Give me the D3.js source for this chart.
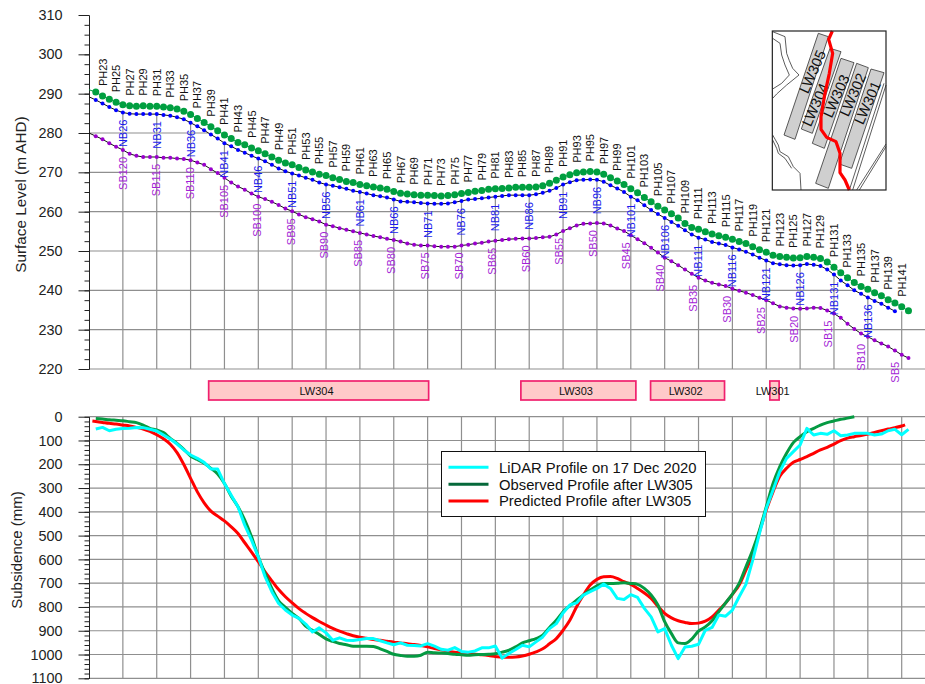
<!DOCTYPE html>
<html>
<head>
<meta charset="utf-8">
<script src="https://cdn.jsdelivr.net/npm/d3@7"></script>
<style>
    html, body { margin: 0; padding: 0; background: #fff; overflow: hidden; }
    svg { display: block; font-family: "Liberation Sans", Arial, sans-serif; }
    .grid line { stroke: #8f8f8f; stroke-width: 1.2; }
    .axis path, .axis line { stroke: #222; stroke-width: 1; }
    .axis text { font-size: 14.4px; fill: #222; font-family: "Liberation Sans", Arial, sans-serif; }
</style>
</head>
<body>
<svg id="chart" width="925" height="684"></svg>
<script>
// peg numbers, one value per peg from PH21 (at the axis) to PH142
var surfacePegs = d3.range(21, 143);
var bridgePegs = d3.range(21, 141);

var phLevel = [291.0, 290.4, 289.4, 288.6, 287.8, 287.2, 286.9, 286.8, 286.9, 286.8, 286.8,
    286.6, 286.4, 286.1, 285.5, 284.7, 283.7, 282.7, 281.6, 280.6, 279.5,
    278.6, 277.6, 277.0, 276.2, 275.5, 274.7, 273.9, 273.1, 272.4, 271.9,
    271.2, 270.6, 270.1, 269.5, 269.2, 268.6, 268.2, 267.7, 267.4, 266.9,
    266.6, 266.3, 266.0, 265.7, 265.1, 264.7, 264.5, 264.3, 264.2, 264.2,
    264.1, 264.0, 264.1, 264.3, 264.6, 264.9, 265.2, 265.4, 265.7, 265.8,
    265.9, 266.0, 266.2, 266.2, 266.2, 266.3, 266.6, 267.2, 268.0, 268.8,
    269.4, 269.9, 270.1, 270.2, 270.1, 269.5, 268.6, 267.8, 266.9, 265.8,
    264.8, 263.6, 262.5, 261.4, 260.4, 259.5, 258.4, 257.0, 256.0, 255.5,
    254.9, 254.3, 253.9, 253.5, 253.0, 252.4, 251.9, 251.1, 250.3, 249.7,
    248.9, 248.6, 248.4, 248.2, 248.3, 248.6, 248.4, 248.1, 247.2, 245.9,
    244.5, 243.2, 242.0, 241.0, 240.3, 239.4, 238.6, 237.6, 236.8, 235.8, 234.8];

var nbLevel = [289.2, 288.4, 287.5, 286.6, 285.8, 285.2, 284.9, 284.8, 284.8, 284.8, 284.8,
    284.6, 284.4, 284.0, 283.5, 282.6, 281.7, 280.7, 279.6, 278.6, 277.4,
    276.6, 275.7, 275.0, 274.2, 273.5, 272.8, 271.9, 271.0, 270.3, 269.7,
    269.2, 268.6, 268.1, 267.4, 266.9, 266.6, 266.2, 265.8, 265.3, 265.0,
    264.6, 264.2, 263.9, 263.6, 263.1, 262.6, 262.5, 262.4, 262.2, 262.1,
    262.0, 262.0, 262.1, 262.4, 262.7, 263.1, 263.2, 263.4, 263.6, 263.8,
    264.0, 264.2, 264.2, 264.2, 264.2, 264.4, 264.8, 265.3, 266.0, 266.9,
    267.5, 268.0, 268.1, 268.2, 268.1, 267.6, 266.7, 265.9, 265.0, 263.8,
    262.9, 261.6, 260.4, 259.4, 258.4, 257.4, 256.4, 255.3, 254.2, 253.4,
    252.9, 252.3, 251.9, 251.5, 250.9, 250.4, 249.8, 249.1, 248.3, 247.6,
    246.9, 246.6, 246.4, 246.3, 246.4, 246.7, 246.5, 246.2, 245.3, 244.0,
    242.5, 241.3, 240.0, 239.1, 238.2, 237.3, 236.6, 235.6, 234.7];

var sbLevel = [280.0, 279.2, 278.4, 277.4, 276.5, 275.7, 274.7, 274.2, 273.9, 273.9, 273.9,
    273.7, 273.7, 273.5, 273.4, 273.1, 272.5, 271.9, 270.8, 269.8, 268.6,
    267.4, 266.4, 265.6, 264.6, 263.8, 263.2, 262.5, 261.7, 260.8, 260.1,
    259.3, 258.6, 258.1, 257.5, 256.7, 256.3, 255.8, 255.4, 255.0, 254.6,
    254.2, 253.8, 253.5, 253.1, 252.8, 252.4, 251.9, 251.6, 251.4, 251.4,
    251.2, 251.1, 251.1, 251.1, 251.4, 251.6, 251.9, 252.1, 252.4, 252.6,
    252.8, 253.0, 253.1, 253.2, 253.2, 253.3, 253.5, 253.6, 254.2, 255.1,
    255.8, 256.5, 256.9, 257.0, 257.1, 257.0, 256.5, 255.7, 255.1, 254.0,
    253.0, 252.0, 250.8, 249.6, 248.3, 247.4, 246.4, 245.3, 244.2, 243.2,
    242.5, 241.9, 241.5, 241.1, 240.4, 239.9, 239.4, 238.8, 238.1, 237.5,
    236.7, 235.9, 235.6, 235.4, 235.3, 235.4, 235.6, 235.5, 234.9, 234.1,
    233.0, 231.5, 230.2, 229.0, 228.2, 227.3, 226.5, 225.7, 224.7, 223.6, 222.8];

// subsidence in mm, per peg
var lidarPegs = d3.range(22, 143);
var lidarProfile = [52, 45, 59, 53, 50, 49, 45, 46, 53, 60,
    77, 94, 115, 140, 161, 175, 192, 220, 220, 281,
    330, 379, 456, 519, 589, 673, 736, 785, 813, 834,
    848, 872, 905, 888, 909, 940, 930, 940, 941, 937,
    933, 933, 942, 951, 959, 951, 961, 962, 964, 954,
    965, 978, 982, 971, 987, 990, 985, 972, 972, 964,
    1015, 996, 979, 961, 968, 947, 926, 891, 870, 825,
    792, 783, 750, 736, 722, 704, 722, 764, 769, 748,
    760, 806, 842, 905, 891, 961, 1017, 968, 965, 957,
    898, 886, 834, 839, 813, 757, 705, 603, 491, 386,
    309, 231, 175, 147, 119, 49, 77, 70, 74, 59,
    80, 77, 70, 70, 70, 77, 73, 59, 53, 76, 53];

var observedPegs = d3.range(22, 135);
var observedProfile = [8, 10, 13, 15, 17, 21, 25, 35, 49, 56,
    67, 91, 112, 137, 165, 180, 196, 217, 241, 281,
    334, 379, 435, 505, 589, 659, 722, 774, 802, 827,
    848, 881, 898, 916, 934, 945, 954, 959, 965, 965,
    965, 966, 976, 987, 999, 1004, 1007, 1007, 1003, 990,
    993, 994, 996, 999, 1001, 1003, 1001, 1000, 999, 997,
    990, 982, 968, 951, 942, 933, 919, 886, 856, 820,
    795, 771, 750, 729, 711, 701, 701, 700, 698, 701,
    705, 722, 750, 792, 862, 912, 951, 954, 935, 902,
    884, 858, 820, 783, 746, 701, 631, 561, 477, 379,
    281, 210, 154, 109, 84, 63, 49, 35, 25, 18,
    11, 6, 0];

var predictedPegs = [21.5].concat(d3.range(22, 142), [141.5]);
var predictedProfile = [18, 20, 24, 28, 31, 35, 39, 45, 52, 62, 76,
    93, 116, 151, 201, 259, 316, 362, 397, 418, 438,
    463, 491, 530, 569, 610, 652, 690, 727, 757, 783,
    807, 827, 845, 861, 876, 890, 902, 912, 921, 927,
    932, 937, 940, 944, 948, 951, 955, 958, 962, 968,
    975, 980, 986, 990, 993, 996, 999, 1001, 1004, 1008,
    1011, 1011, 1010, 1006, 999, 989, 976, 955, 933, 898,
    856, 799, 750, 708, 684, 673, 672, 680, 694, 705,
    722, 741, 764, 797, 827, 846, 858, 865, 870, 868,
    860, 842, 813, 783, 747, 708, 645, 582, 484, 393,
    316, 250, 217, 192, 180, 168, 154, 140, 129, 115,
    101, 90, 84, 79, 73, 66, 59, 52, 46, 39, 34];

// labels along the line
var phLabels = d3.range(23, 142, 2);
var nbLabels = d3.range(26, 137, 5);
var sbLabels = d3.range(120, 0, -5);

// longwall panels along the section, in pegs
var panelNames = ["LW304", "LW303", "LW302", "LW301"];
var panelStart = [38.67, 84.77, 103.92, 121.53];
var panelEnd = [71.15, 101.75, 114.84, 122.9];
var panelLabelAt = [54.6, 92.9, 109.1, 121.95];

var levelTicks = d3.range(220, 311, 10);
var levelMinor = d3.range(220, 310.1, 2.5);
var subsidenceTicks = d3.range(0, 1101, 100);
var subsidenceMinor = d3.range(0, 1101, 20);
var gridPegs = d3.range(26, 142, 5);
var levelGrid = d3.range(220, 281, 10);

var legendNames = ["LiDAR Profile on 17 Dec 2020", "Observed Profile after LW305", "Predicted Profile after LW305"];
var legendColours = ["#00ffff", "#05683a", "#ff0000"];

// location plan, in its own plan units
var planPanels = [
    {name: "LW305", at: [157, 155], outline: [[175, 40], [205, 50], [105, 358], [72, 345]]},
    {name: "LW304", at: [165, 254], outline: [[210, 85], [243, 95], [157, 340], [124, 327]]},
    {name: "LW303", at: [228, 228], outline: [[243, 115], [282, 128], [193, 385], [157, 370]]},
    {name: "LW302", at: [278, 224], outline: [[290, 130], [325, 143], [205, 505], [167, 490]]},
    {name: "LW301", at: [322, 248], outline: [[333, 147], [372, 158], [275, 445], [238, 432]]}
];
var planSection = [[217, 33], [206, 58], [218, 100], [208, 160], [195, 220], [183, 290], [183, 328], [200, 352],
    [228, 365], [240, 400], [240, 458], [255, 480], [268, 510]];
var planLines = [
    [[38, 35], [75, 50], [80, 100], [88, 122], [98, 145], [117, 165], [80, 195], [50, 222], [38, 235]],
    [[38, 55], [60, 70], [65, 105], [75, 135], [88, 165], [65, 190], [38, 207]],
    [[38, 345], [55, 375], [60, 395], [85, 410], [100, 440], [120, 460], [123, 510]],
    [[38, 360], [50, 385], [55, 400], [75, 415], [95, 445]],
    [[378, 195], [278, 510]],
    [[372, 190], [268, 510]],
    [[378, 372], [290, 510]],
    [[378, 380], [298, 510]]
];

var svg = d3.select("svg#chart"),
    width = 925,
    axisX = 89;

var x = d3.scaleLinear().domain([21, 141]).range([axisX, 901.7]);
var yLevel = d3.scaleLinear().domain([220, 310]).range([369, 15]);
var ySub = d3.scaleLinear().domain([0, 1100]).range([416.7, 678.3]);
// SB labels sit at a slightly tighter spacing than the pegs
var sbLabelX = d3.scaleLinear().domain([120, 5]).range([x(26), x(140)]);

function zip(xs, ys) {
    return xs.map(function (d, i) {
        return {n: d, v: ys[i]};
    });
}

var phData = zip(surfacePegs, phLevel),
    nbData = zip(bridgePegs, nbLevel),
    sbData = zip(surfacePegs, sbLevel);

function levelAt(values, n) {
    return values[n - 21];
}

// gridlines only show below the bridge line
var belowBridge = nbData.concat([{n: 150, v: nbLevel[nbLevel.length - 1]}]);
svg.append("clipPath").attr("id", "under-bridge")
    .append("path")
    .attr("d", d3.area()
        .x(function (d) { return x(d.n); })
        .y0(yLevel(220) + 1)
        .y1(function (d) { return yLevel(d.v); })(belowBridge));

var topGrid = svg.append("g").attr("class", "grid").attr("clip-path", "url(#under-bridge)");
topGrid.selectAll("line.h").data(levelGrid).enter().append("line")
    .attr("class", "h")
    .attr("x1", axisX).attr("x2", width)
    .attr("y1", function (d) { return yLevel(d); })
    .attr("y2", function (d) { return yLevel(d); });
topGrid.selectAll("line.v").data(gridPegs).enter().append("line")
    .attr("class", "v")
    .attr("x1", function (d) { return x(d); })
    .attr("x2", function (d) { return x(d); })
    .attr("y1", yLevel(310)).attr("y2", yLevel(220));

var bottomGrid = svg.append("g").attr("class", "grid");
bottomGrid.selectAll("line.h").data(subsidenceTicks).enter().append("line")
    .attr("class", "h")
    .attr("x1", axisX).attr("x2", width)
    .attr("y1", function (d) { return ySub(d); })
    .attr("y2", function (d) { return ySub(d); });
bottomGrid.selectAll("line.v").data(gridPegs).enter().append("line")
    .attr("class", "v")
    .attr("x1", function (d) { return x(d); })
    .attr("x2", function (d) { return x(d); })
    .attr("y1", ySub(0)).attr("y2", ySub(1100));

// Axes
function drawAxis(scale, major, minor) {
    svg.append("g").attr("class", "axis")
        .attr("transform", "translate(" + axisX + ",0)")
        .call(d3.axisLeft(scale).tickValues(minor).tickSize(4.5).tickSizeOuter(0).tickFormat(""));
    svg.append("g").attr("class", "axis")
        .attr("transform", "translate(" + axisX + ",0)")
        .call(d3.axisLeft(scale).tickValues(major).tickSize(10.5).tickSizeOuter(0).tickPadding(16)
            .tickFormat(d3.format("d")));
}
drawAxis(yLevel, levelTicks, levelMinor);
drawAxis(ySub, subsidenceTicks, subsidenceMinor);

svg.append("text")
    .attr("transform", "translate(21,194.5) rotate(-90)")
    .attr("text-anchor", "middle").attr("dy", ".35em")
    .style("font-size", "15.3px").style("fill", "#222")
    .text("Surface Level (m AHD)");
svg.append("text")
    .attr("transform", "translate(17,550) rotate(-90)")
    .attr("text-anchor", "middle").attr("dy", ".35em")
    .style("font-size", "15px").style("fill", "#222")
    .text("Subsidence (mm)");

// Level profiles
var levelLine = d3.line()
    .x(function (d) { return x(d.n); })
    .y(function (d) { return yLevel(d.v); });

function drawLevels(data, lineColour, lineWidth, dotColour, radius) {
    svg.append("path")
        .attr("d", levelLine(data))
        .attr("fill", "none")
        .attr("stroke", lineColour)
        .attr("stroke-width", lineWidth);
    svg.append("g").selectAll("circle")
        .data(data.filter(function (d) { return d.n >= 22; }))
        .enter().append("circle")
        .attr("cx", function (d) { return x(d.n); })
        .attr("cy", function (d) { return yLevel(d.v); })
        .attr("r", radius)
        .attr("fill", dotColour);
}
drawLevels(phData, "#009f40", 1, "#009f40", 3.5);
drawLevels(nbData, "#111", 1, "#0000ff", 2);
drawLevels(sbData, "#111", 1, "#9900cc", 2);

function drawVerticalLabels(rows, colour, anchor) {
    svg.append("g").selectAll("text")
        .data(rows).enter().append("text")
        .attr("transform", function (d) {
            return "translate(" + d.x + "," + d.y + ") rotate(-90)";
        })
        .attr("text-anchor", anchor)
        .attr("dy", ".36em")
        .style("font-size", "11px")
        .style("fill", colour)
        .text(function (d) { return d.text; });
}

drawVerticalLabels(phLabels.map(function (n) {
    return {x: x(n), y: yLevel(levelAt(phLevel, n)) - 10, text: "PH" + n};
}), "#111", "start");
drawVerticalLabels(nbLabels.map(function (n) {
    return {x: x(n), y: yLevel(levelAt(nbLevel, n)) + 7, text: "NB" + n};
}), "#1a1aee", "end");
drawVerticalLabels(sbLabels.map(function (s) {
    return {x: sbLabelX(s), y: yLevel(levelAt(sbLevel, 146 - s)) + 7, text: "SB" + s};
}), "#a41fd6", "end");

// Panels strip
var panels = svg.append("g").selectAll("g")
    .data(panelNames).enter().append("g");
panels.append("rect")
    .attr("x", function (d, i) { return x(panelStart[i]); })
    .attr("width", function (d, i) { return x(panelEnd[i]) - x(panelStart[i]); })
    .attr("y", 381).attr("height", 19)
    .attr("fill", "#ffc9c9")
    .attr("stroke", "#f0206e")
    .attr("stroke-width", 1.7);
panels.append("text")
    .attr("x", function (d, i) { return x(panelLabelAt[i]); })
    .attr("y", 394.5)
    .attr("text-anchor", "middle")
    .style("font-size", "11px")
    .style("fill", "#111")
    .text(function (d) { return d; });

// Subsidence profiles, measured ones keep their kinks
function drawProfile(pegs, values, colour, curve) {
    svg.append("path")
        .attr("d", d3.line()
            .x(function (d) { return x(d.n); })
            .y(function (d) { return ySub(d.v); })
            .curve(curve)(zip(pegs, values)))
        .attr("fill", "none")
        .attr("stroke", colour)
        .attr("stroke-width", 3)
        .attr("stroke-linejoin", "round");
}
drawProfile(predictedPegs, predictedProfile, "#ff0000", d3.curveMonotoneX);
drawProfile(observedPegs, observedProfile, "#059a42", d3.curveMonotoneX);
drawProfile(lidarPegs, lidarProfile, "#00ffff", d3.curveLinear);

// Legend
var legend = svg.append("g");
legend.append("rect")
    .attr("x", 441.5).attr("y", 451.5).attr("width", 264).attr("height", 65)
    .attr("fill", "#fff").attr("stroke", "#111").attr("stroke-width", 1);
legendNames.forEach(function (name, i) {
    var rowY = 467.3 + i * 16.9;
    legend.append("line")
        .attr("x1", 448.5).attr("x2", 488.5)
        .attr("y1", rowY).attr("y2", rowY)
        .attr("stroke", legendColours[i]).attr("stroke-width", 3);
    legend.append("text")
        .attr("x", 499).attr("y", rowY).attr("dy", ".36em")
        .style("font-size", "14.8px").style("fill", "#111")
        .text(name);
});

// Location plan
var mapX = d3.scaleLinear().domain([0, 420]).range([760, 900]);
var mapY = d3.scaleLinear().domain([0, 540]).range([20, 200]);
var mapLine = d3.line()
    .x(function (d) { return mapX(d[0]); })
    .y(function (d) { return mapY(d[1]); });

var plan = svg.append("g");
plan.append("rect")
    .attr("x", mapX(37)).attr("y", mapY(33))
    .attr("width", mapX(378) - mapX(37)).attr("height", mapY(510) - mapY(33))
    .attr("fill", "#fff");
plan.selectAll("path.terrain").data(planLines).enter().append("path")
    .attr("class", "terrain")
    .attr("d", mapLine)
    .attr("fill", "none").attr("stroke", "#333").attr("stroke-width", 0.8);
plan.selectAll("path.panel").data(planPanels).enter().append("path")
    .attr("class", "panel")
    .attr("d", function (d) { return mapLine(d.outline) + "Z"; })
    .attr("fill", "#cfcfcf").attr("stroke", "#333").attr("stroke-width", 0.8);
plan.selectAll("text").data(planPanels).enter().append("text")
    .attr("transform", function (d) {
        return "translate(" + mapX(d.at[0]) + "," + mapY(d.at[1]) + ") rotate(-66)";
    })
    .attr("text-anchor", "middle").attr("dy", ".36em")
    .style("font-size", "14.6px").style("fill", "#111")
    .text(function (d) { return d.name; });
plan.append("path")
    .attr("d", mapLine(planSection))
    .attr("fill", "none").attr("stroke", "#ff0000").attr("stroke-width", 3.2)
    .attr("stroke-linejoin", "round");
plan.append("rect")
    .attr("x", mapX(37)).attr("y", mapY(33))
    .attr("width", mapX(378) - mapX(37)).attr("height", mapY(510) - mapY(33))
    .attr("fill", "none").attr("stroke", "#222").attr("stroke-width", 1.2);
</script>
</body>
</html>
